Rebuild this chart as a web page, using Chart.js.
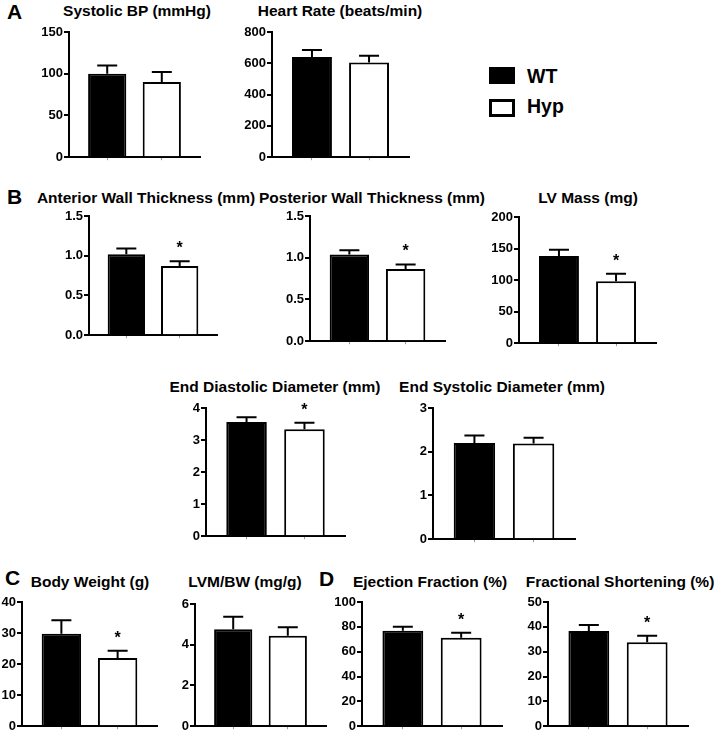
<!DOCTYPE html>
<html>
<head>
<meta charset="utf-8">
<script src="https://cdn.jsdelivr.net/npm/chart.js@4.4.0/dist/chart.umd.min.js"></script>
<style>
  body { margin:0; background:#fff; width:717px; height:736px; position:relative; overflow:hidden;
         font-family:"Liberation Sans", Arial, sans-serif; font-weight:bold; color:#000; }
  .title { position:absolute; font-size:15.5px; line-height:15.5px; white-space:nowrap; transform:translateX(-50%); }
  .letter { position:absolute; font-size:21px; line-height:21px; }
  .legtxt { position:absolute; font-size:19.5px; line-height:19.5px; }
  canvas { position:absolute; }
</style>
</head>
<body>
<div class="letter" style="left:7px;top:1px">A</div>
<div class="letter" style="left:7px;top:186px">B</div>
<div class="letter" style="left:5px;top:567px">C</div>
<div class="letter" style="left:319px;top:568px">D</div>

<div style="position:absolute;left:489px;top:67px;width:26px;height:17px;background:#000"></div>
<div style="position:absolute;left:489px;top:99px;width:26px;height:18px;border:3px solid #000;box-sizing:border-box;background:#fff"></div>
<div class="legtxt" style="left:527px;top:67px">WT</div>
<div class="legtxt" style="left:527px;top:97px">Hyp</div>

<script>
// data, one entry per panel
var titles = ['Systolic BP (mmHg)', 'Heart Rate (beats/min)', 'Anterior Wall Thickness (mm)',
              'Posterior Wall Thickness (mm)', 'LV Mass (mg)', 'End Diastolic Diameter (mm)',
              'End Systolic Diameter (mm)', 'Body Weight (g)', 'LVM/BW (mg/g)',
              'Ejection Fraction (%)', 'Fractional Shortening (%)'];
var groups  = ['WT', 'Hyp'];
var wtMean  = [100, 640, 1.02, 1.04, 138, 3.56, 2.20, 29.8, 4.76, 76.8, 38.3];
var wtSem   = [10, 45, 0.07, 0.05, 10, 0.15, 0.17, 4.3, 0.62, 3.2, 2.4];
var hypMean = [90, 605, 0.87, 0.865, 98, 3.34, 2.19, 22.0, 4.44, 71.2, 33.8];
var hypSem  = [12, 43, 0.06, 0.055, 12, 0.20, 0.13, 2.3, 0.42, 4.0, 2.6];
var hypStar = [false, false, true, true, true, true, false, true, false, true, true];
var yMax    = [150, 800, 1.5, 1.5, 200, 4, 3, 40, 6, 100, 50];
var yStep   = [50, 200, 0.5, 0.5, 50, 1, 1, 10, 2, 20, 10];
var yDigits = [0, 0, 1, 1, 0, 0, 0, 0, 0, 0, 0];

// where each plot sits on the page (axis box) and its title centre
var boxes = [
  {l:69,  t:32,  r:200, b:158, tx:137, ty:3},
  {l:272, t:32,  r:409, b:158, tx:340, ty:3},
  {l:89,  t:216, r:217, b:336, tx:146, ty:189.5},
  {l:310, t:216, r:445, b:342, tx:372, ty:189.5},
  {l:519, t:217, r:656, b:344, tx:588, ty:189.5},
  {l:206, t:408, r:345, b:537, tx:275, ty:379},
  {l:433, t:408, r:575, b:540, tx:502, ty:379},
  {l:22,  t:602, r:157, b:727, tx:90,  ty:573.5},
  {l:195, t:604, r:326, b:727, tx:245, ty:573.5},
  {l:362, t:602, r:502, b:727, tx:430, ty:573.5},
  {l:548, t:602, r:688, b:727, tx:620, ty:573.5}
];

var errorBars = {
  id: 'errorBars',
  afterDatasetsDraw: function(chart, args, opts) {
    var ctx = chart.ctx;
    var y = chart.scales.y;
    chart.getDatasetMeta(0).data.forEach(function(bar, i) {
      var top = y.getPixelForValue(opts.means[i] + opts.sems[i]);
      ctx.save();
      ctx.strokeStyle = '#000';
      ctx.lineWidth = 2;
      ctx.beginPath();
      ctx.moveTo(bar.x, bar.y);
      ctx.lineTo(bar.x, top);
      ctx.moveTo(bar.x - 10, top);
      ctx.lineTo(bar.x + 10, top);
      ctx.stroke();
      if (opts.stars[i]) {
        ctx.fillStyle = '#000';
        ctx.font = 'bold 16px "Liberation Sans"';
        ctx.textAlign = 'center';
        ctx.fillText('*', bar.x, top - 8);
      }
      ctx.restore();
    });
  }
};

var padL = 40, padT = 14, padR = 4, padB = 8;

boxes.forEach(function(b, k) {
  var t = document.createElement('div');
  t.className = 'title';
  t.style.left = b.tx + 'px';
  t.style.top = b.ty + 'px';
  t.textContent = titles[k];
  document.body.appendChild(t);

  var cv = document.createElement('canvas');
  cv.width = b.r - b.l + padL + padR;
  cv.height = b.b - b.t + padT + padB;
  cv.style.left = (b.l - padL) + 'px';
  cv.style.top = (b.t - padT) + 'px';
  document.body.appendChild(cv);

  var means = [wtMean[k], hypMean[k]];
  var sems = [wtSem[k], hypSem[k]];

  new Chart(cv, {
    type: 'bar',
    data: {
      datasets: [{
        label: groups.join('/'),
        data: means.map(function(v, i) { return {x: i + 1, y: v}; }),
        backgroundColor: ['#000', '#fff'],
        borderColor: '#000',
        borderWidth: 2,
        categoryPercentage: 1,
        barPercentage: 0.7
      }]
    },
    options: {
      responsive: false,
      animation: false,
      devicePixelRatio: 1,
      layout: { padding: { top: padT, right: padR, left: 0, bottom: 0 } },
      plugins: {
        legend: { display: false },
        tooltip: { enabled: false },
        errorBars: { means: means, sems: sems, stars: [false, hypStar[k]] }
      },
      scales: {
        x: {
          type: 'linear', min: 0.3, max: 2.7, offset: false, bounds: 'data',
          afterBuildTicks: function(s) { s.ticks = [{value: 1}, {value: 2}]; },
          afterFit: function(s) { s.height = padB; },
          ticks: { display: false },
          grid: { offset: false, drawOnChartArea: false, tickLength: 3, color: '#999', lineWidth: 1 },
          border: { color: '#000', width: 2 }
        },
        y: {
          min: 0, max: yMax[k],
          afterFit: function(s) { s.width = padL; },
          ticks: {
            stepSize: yStep[k], padding: 1, color: '#000',
            font: { family: 'Liberation Sans', size: 13, weight: 'bold' },
            callback: function(v) { return v.toFixed(yDigits[k]); }
          },
          grid: { drawOnChartArea: false, tickLength: 5, color: '#000', lineWidth: 2 },
          border: { color: '#000', width: 2 }
        }
      }
    },
    plugins: [errorBars]
  });
});
</script>
</body>
</html>
